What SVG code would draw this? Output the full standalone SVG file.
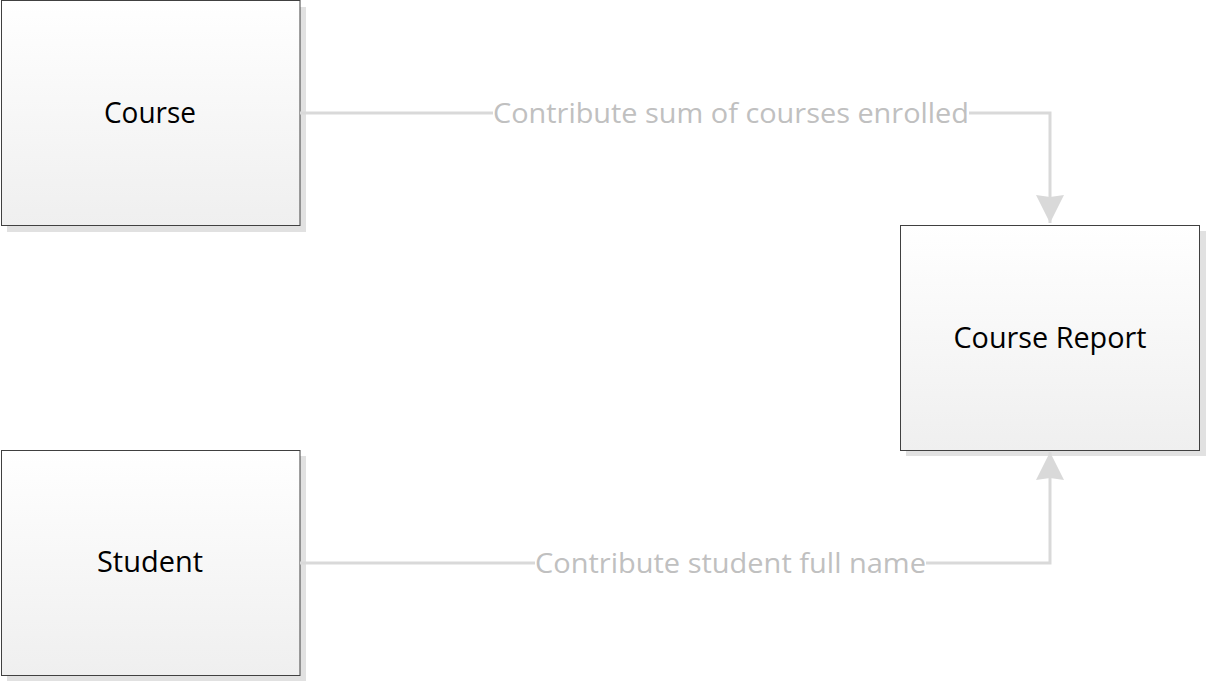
<svg xmlns="http://www.w3.org/2000/svg" width="1207" height="682" viewBox="0 0 1207 682">
<defs>
<linearGradient id="g" x1="0" y1="0" x2="0" y2="1">
<stop offset="0" stop-color="#ffffff"/>
<stop offset="1" stop-color="#efefef"/>
</linearGradient>
<marker id="arr" markerUnits="userSpaceOnUse" markerWidth="30" markerHeight="30" viewBox="0 0 30 30" refX="28" refY="15" orient="auto">
<path d="M0,1 L28,15 L0,29 L2,15 Z" fill="#d9d9d9"/>
</marker>
<style>
.shadow{fill:#e1e1e1}
.box{fill:url(#g);stroke:#404040;stroke-width:1}
.lbl{font-family:"Open Sans","Noto Sans",sans-serif;font-size:29px;fill:#000;text-anchor:middle}
.cl{font-family:"Open Sans","Noto Sans",sans-serif;font-size:28px;fill:#c0c0c0;text-anchor:middle}
.conn{fill:none;stroke:#d9d9d9;stroke-width:3}
</style>
</defs>
<rect width="1207" height="682" fill="#ffffff"/>
<g id="course">
<rect class="shadow" x="7" y="7" width="299" height="225"/>
<rect class="box" x="1.5" y="0.5" width="298.5" height="225"/>
<text class="lbl" x="150" y="123" textLength="92" lengthAdjust="spacingAndGlyphs">Course</text>
</g>
<g id="student">
<rect class="shadow" x="7" y="456" width="299" height="225"/>
<rect class="box" x="1.5" y="450.5" width="298.5" height="225"/>
<text class="lbl" x="150" y="572" textLength="106" lengthAdjust="spacingAndGlyphs">Student</text>
</g>
<g id="course-report">
<rect class="shadow" x="906" y="231" width="300" height="225"/>
<rect class="box" x="900.5" y="225.5" width="299" height="225"/>
<text class="lbl" x="1050" y="348" textLength="193" lengthAdjust="spacingAndGlyphs">Course Report</text>
</g>
<g id="connectors">
<path class="conn" d="M300,113 L493,113"/>
<path class="conn" d="M969,113 L1050,113 L1050,223" marker-end="url(#arr)"/>
<text class="cl" x="731" y="123" textLength="476" lengthAdjust="spacingAndGlyphs">Contribute sum of courses enrolled</text>
<path class="conn" d="M300,563 L535,563"/>
<path class="conn" d="M926,563 L1050,563 L1050,452" marker-end="url(#arr)"/>
<text class="cl" x="730.5" y="573" textLength="391" lengthAdjust="spacingAndGlyphs">Contribute student full name</text>
</g>
</svg>
